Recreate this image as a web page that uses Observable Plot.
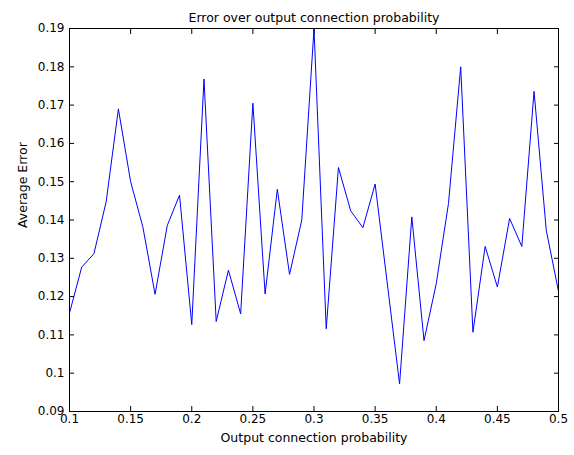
<!DOCTYPE html>
<html>
<head>
<meta charset="utf-8">
<script src="https://cdn.jsdelivr.net/npm/d3@7"></script>
<script src="https://cdn.jsdelivr.net/npm/@observablehq/plot@0.6"></script>
<style>
  html, body { margin: 0; padding: 0; background: #fff; }
  svg { font-family: "DejaVu Sans", sans-serif; }
</style>
</head>
<body>
<div id="chart"></div>
<script>
const probability = [0.10,0.11,0.12,0.13,0.14,0.15,0.16,0.17,0.18,0.19,0.20,0.21,0.22,0.23,0.24,0.25,0.26,0.27,0.28,0.29,0.30,0.31,0.32,0.33,0.34,0.35,0.36,0.37,0.38,0.39,0.40,0.41,0.42,0.43,0.44,0.45,0.46,0.47,0.48,0.49,0.50];
const avgError = [0.1157,0.1277,0.1312,0.1448,0.1690,0.1500,0.1382,0.1206,0.1386,0.1465,0.1127,0.1768,0.1135,0.1269,0.1155,0.1705,0.1207,0.1480,0.1258,0.1400,0.1900,0.1116,0.1537,0.1424,0.1380,0.1494,0.1233,0.0972,0.1408,0.1085,0.1234,0.1443,0.1800,0.1107,0.1331,0.1225,0.1404,0.1331,0.1736,0.1373,0.1214];
const xTicks = [0.1,0.15,0.2,0.25,0.3,0.35,0.4,0.45,0.5];
const yTicks = [0.09,0.10,0.11,0.12,0.13,0.14,0.15,0.16,0.17,0.18,0.19];
const titleText = "Error over output connection probability";
const xLabel = "Output connection probability";
const yLabel = "Average Error";

const data = probability.map((p, i) => ({p, e: avgError[i]}));
const fmt = d => String(+d.toFixed(2));

const chart = Plot.plot({
  width: 574,
  height: 455,
  marginLeft: 69,
  marginRight: 16,
  marginTop: 28,
  marginBottom: 44,
  style: {fontFamily: "'DejaVu Sans', sans-serif", fontSize: "12px", color: "#000", background: "#fff"},
  x: {domain: [0.1, 0.5]},
  y: {domain: [0.09, 0.19]},
  marks: [
    Plot.axisX({anchor: "bottom", ticks: xTicks, tickSize: 0, tickPadding: 3, tickFormat: fmt, label: null}),
    Plot.axisX({anchor: "bottom", ticks: xTicks, tickSize: -5, tickFormat: () => "", label: null}),
    Plot.axisX({anchor: "top", ticks: xTicks, tickSize: -5, tickFormat: () => "", label: null}),
    Plot.axisY({anchor: "left", ticks: yTicks, tickSize: 0, tickPadding: 5, tickFormat: fmt, label: null}),
    Plot.axisY({anchor: "left", ticks: yTicks, tickSize: -5, tickFormat: () => "", label: null}),
    Plot.axisY({anchor: "right", ticks: yTicks, tickSize: -5, tickFormat: () => "", label: null}),
    Plot.line(data, {x: "p", y: "e", stroke: "#0000ff", strokeWidth: 1}),
    Plot.frame({stroke: "#000"}),
    Plot.text([titleText], {frameAnchor: "top", dy: -15, fontSize: 12.5, fill: "#000"}),
    Plot.text([xLabel], {frameAnchor: "bottom", dy: 30, fontSize: 12.5, fill: "#000"}),
    Plot.text([yLabel], {frameAnchor: "left", dx: -47, dy: 8, rotate: -90, fontSize: 12.5, fill: "#000"})
  ]
});
document.getElementById("chart").appendChild(chart);
</script>
</body>
</html>
